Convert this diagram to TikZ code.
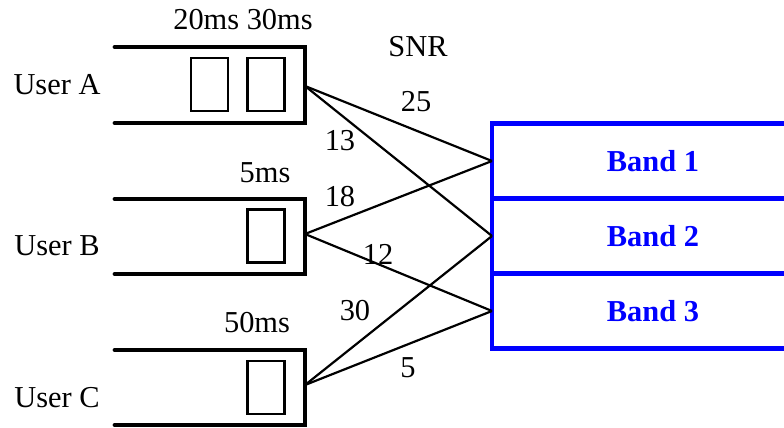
\documentclass[tikz,border=0pt]{standalone}
\usepackage{fontspec}
\setmainfont{Liberation Serif}
\begin{document}
\begin{tikzpicture}[x=0.5pt,y=-0.5pt,
  every node/.style={inner sep=0pt,outer sep=0pt,font=\fontsize{15.2}{18}\selectfont},
  queue/.style={line width=2.4pt,line join=miter,line cap=round},
  packet/.style={draw,line width=1.4pt,minimum width=18.5pt,minimum height=26.5pt},
  band/.style={draw=blue,line width=2.4pt,text=blue,font=\fontsize{15.2}{18}\selectfont\bfseries,
               minimum width=161pt,minimum height=37.5pt},
  link/.style={line width=1.1pt}]
\useasboundingbox (0,0) rectangle (784,428);
\clip (0,0) rectangle (784,428);

% user labels
\node (ua) at (57,85) {User A};
\node (ub) at (57,246) {User B};
\node (uc) at (57,398) {User C};

% queues, open on the left
\draw[queue] (115,47) -- (305,47) -- (305,123) -- (115,123);
\draw[queue] (115,199) -- (305,199) -- (305,274) -- (115,274);
\draw[queue] (115,350) -- (305,350) -- (305,425) -- (115,425);

% queued packets
\node[packet] (pa1) at (209.5,84.5) {};
\node[packet] (pa2) at (266,84.5) {};
\node[packet] (pb1) at (266,236) {};
\node[packet] (pc1) at (266,387.5) {};

% deadlines
\node (da) at (243,20) {20ms 30ms};
\node (db) at (265,173) {5ms};
\node (dc) at (257,323) {50ms};

% queue outputs
\coordinate (oa) at (305,86);
\coordinate (ob) at (305,234);
\coordinate (oc) at (305,385);

% bands
\node[band] (b1) at (653,161) {Band 1};
\node[band] (b2) at (653,236) {Band 2};
\node[band] (b3) at (653,311) {Band 3};

% links
\draw[link] (oa) -- (b1.west);
\draw[link] (oa) -- (b2.west);
\draw[link] (ob) -- (b1.west);
\draw[link] (ob) -- (b3.west);
\draw[link] (oc) -- (b2.west);
\draw[link] (oc) -- (b3.west);

% SNR values
\node (snr) at (418,47) {SNR};
\node (s25) at (416,102) {25};
\node (s13) at (340,141) {13};
\node (s18) at (340,197) {18};
\node (s12) at (378,254) {12};
\node (s30) at (355,311) {30};
\node (s5) at (408,368) {5};
\end{tikzpicture}
\end{document}
